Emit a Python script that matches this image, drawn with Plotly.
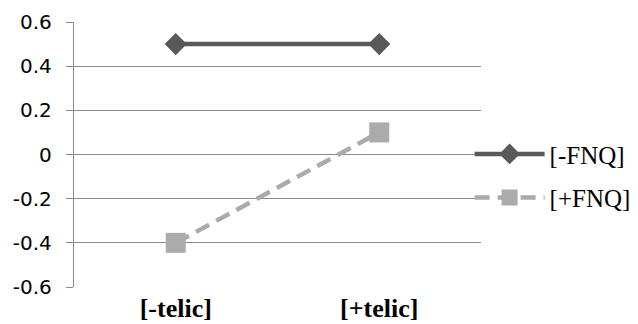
import plotly.graph_objects as go

categories = ["[-telic]", "[+telic]"]
minus_fnq = [0.5, 0.5]
plus_fnq = [-0.4, 0.1]
y_ticks = [-0.6, -0.4, -0.2, 0, 0.2, 0.4, 0.6]
y_tick_labels = ["-0.6", "-0.4", "-0.2", "0", "0.2", "0.4", "0.6"]

fig = go.Figure()
fig.add_trace(go.Scatter(
    x=categories, y=minus_fnq, name="[-FNQ]", mode="lines+markers",
    legendgroup="a",
    line=dict(color="#595959", width=4.5),
    marker=dict(symbol="diamond", size=17, color="#595959"),
))
fig.add_trace(go.Scatter(
    x=categories, y=plus_fnq, name="[+FNQ]", mode="lines+markers",
    legendgroup="b",
    line=dict(color="#ABABAB", width=4.5, dash="15px,8px"),
    marker=dict(symbol="square", size=20, color="#ABABAB"),
))

# page body adds 8px offset; compensate with figure size/margins
fig.update_layout(
    width=630, height=316,
    margin=dict(l=66, r=157, t=14, b=37, autoexpand=False),
    paper_bgcolor="white", plot_bgcolor="white",
    showlegend=True,
    legend=dict(
        x=0.972, y=0.42, xanchor="left", yanchor="middle",
        font=dict(family="Liberation Serif, Times New Roman, serif", size=25, color="#000"),
        itemwidth=70, traceorder="grouped", tracegroupgap=8,
        bgcolor="rgba(0,0,0,0)",
    ),
    xaxis=dict(
        type="category", range=[-0.5, 1.5],
        showgrid=False, zeroline=False, showline=False, ticks="",
        tickfont=dict(family="Liberation Serif, Times New Roman, serif", size=26, color="#000"),
        ticklabelstandoff=3,
    ),
    yaxis=dict(
        range=[-0.6, 0.600001], tickvals=y_ticks, ticktext=y_tick_labels,
        showgrid=True, gridcolor="#8A8A8A", gridwidth=1.4,
        zeroline=False, showline=True, linecolor="#8A8A8A", linewidth=1.4,
        ticks="outside", ticklen=7, tickcolor="#8A8A8A", tickwidth=1.4,
        ticklabelstandoff=10,
        tickfont=dict(family="DejaVu Sans, sans-serif", size=20, color="#000"),
    ),
)
fig.update_xaxes(tickfont_weight="bold")

fig.write_html("out.html")
